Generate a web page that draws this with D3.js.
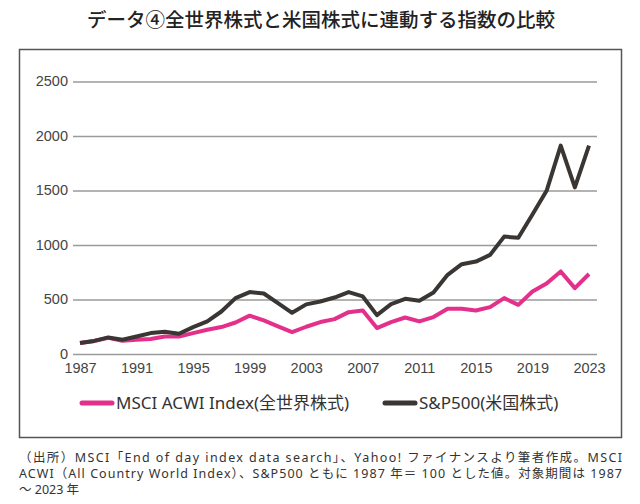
<!DOCTYPE html>
<html>
<head>
<meta charset="utf-8">
<script src="https://cdn.jsdelivr.net/npm/d3@7"></script>
<style>
  body { margin: 0; background: #ffffff; }
  svg { display: block; font-family: "Noto Sans", "Noto Sans CJK JP", sans-serif; }
</style>
</head>
<body>
<div id="chart"></div>
<script>
var years = [1987, 1988, 1989, 1990, 1991, 1992, 1993, 1994, 1995, 1996,
  1997, 1998, 1999, 2000, 2001, 2002, 2003, 2004, 2005, 2006,
  2007, 2008, 2009, 2010, 2011, 2012, 2013, 2014, 2015, 2016,
  2017, 2018, 2019, 2020, 2021, 2022, 2023];

var acwi = [100, 120, 148, 122, 131, 137, 161, 161, 192, 222,
  247, 289, 352, 308, 253, 200, 250, 293, 320, 384,
  399, 238, 293, 335, 299, 339, 415, 415, 399, 430,
  513, 451, 573, 647, 757, 604, 734];

var sp500 = [100, 120, 152, 131, 161, 192, 204, 186, 247, 299,
  390, 513, 568, 555, 467, 378, 455, 482, 518, 568,
  528, 357, 458, 506, 488, 564, 726, 824, 848, 909,
  1077, 1066, 1280, 1497, 1912, 1528, 1912];

var yTicks = [0, 500, 1000, 1500, 2000, 2500];
var xTicks = [1987, 1991, 1995, 1999, 2003, 2007, 2011, 2015, 2019, 2023];

var seriesNames = ['MSCI ACWI Index(全世界株式)', 'S&P500(米国株式)'];
var seriesColors = ['#e3318b', '#3a3634'];

var title = 'データ④全世界株式と米国株式に連動する指数の比較';
var notes = [
  '（出所）MSCI「End of day index data search」、Yahoo! ファイナンスより筆者作成。MSCI',
  'ACWI（All Country World Index）、S&P500 ともに 1987 年＝ 100 とした値。対象期間は 1987',
  '～ 2023 年'
];

var width = 640, height = 504;

var svg = d3.select('#chart').append('svg')
  .attr('width', width)
  .attr('height', height)
  .style('background', '#ffffff');

// title
svg.append('text')
  .attr('x', 321)
  .attr('y', 27)
  .attr('text-anchor', 'middle')
  .style('font-family', '"Noto Sans CJK JP", sans-serif')
  .style('font-size', '19.5px')
  .style('font-weight', 500)
  .style('fill', '#222')
  .text(title);

// frame round the plot and legend
svg.append('rect')
  .attr('x', 19.5)
  .attr('y', 49.5)
  .attr('width', 602)
  .attr('height', 388)
  .style('fill', 'none')
  .style('stroke', '#555')
  .style('stroke-width', 1.5);

var xScale = d3.scaleLinear()
  .domain([1987, 2023])
  .range([80, 589]);

var yScale = d3.scaleLinear()
  .domain([0, 2500])
  .range([354, 81.5]);

// horizontal guides
var yAxis = d3.axisLeft(yScale)
  .tickValues(yTicks)
  .tickSize(-524)
  .tickFormat(d3.format('d'));

var yGuide = svg.append('g')
  .attr('transform', 'translate(73,0)')
  .call(yAxis);
yGuide.select('.domain').remove();
yGuide.selectAll('line')
  .style('stroke', '#9a9a9a')
  .style('stroke-width', 1.3);
yGuide.selectAll('text')
  .style('font-size', '14.5px')
  .style('fill', '#444')
  .attr('x', -5)
  .attr('dy', '0.3em');

var xAxis = d3.axisBottom(xScale)
  .tickValues(xTicks)
  .tickSize(0)
  .tickPadding(9)
  .tickFormat(d3.format('d'));

var xGuide = svg.append('g')
  .attr('transform', 'translate(0,' + yScale(0) + ')')
  .call(xAxis);
xGuide.select('.domain').remove();
xGuide.selectAll('text')
  .style('font-size', '14.5px')
  .style('fill', '#444');

var line = d3.line()
  .x(function(d, i) { return xScale(years[i]); })
  .y(function(d) { return yScale(d); });

// pink first so the black line sits on top
[acwi, sp500].forEach(function(series, k) {
  svg.append('path')
    .datum(series)
    .attr('d', line)
    .style('fill', 'none')
    .style('stroke', seriesColors[k])
    .style('stroke-width', 4)
    .style('stroke-linejoin', 'round');
});

// legend
var legendX = [82, 385];
seriesNames.forEach(function(name, k) {
  svg.append('line')
    .attr('x1', legendX[k])
    .attr('x2', legendX[k] + 30)
    .attr('y1', 403)
    .attr('y2', 403)
    .style('stroke', seriesColors[k])
    .style('stroke-width', 5)
    .style('stroke-linecap', 'round');
  svg.append('text')
    .attr('x', legendX[k] + 34)
    .attr('y', 403)
    .attr('dy', '0.35em')
    .style('font-size', '17px')
    .style('fill', '#333')
    .text(name);
});

// source notes, first two lines justified
notes.forEach(function(t, i) {
  var txt = svg.append('text')
    .attr('x', 19)
    .attr('y', 458 + i * 16)
    .attr('dy', '0.35em')
    .style('font-size', '12.5px')
    .style('fill', '#333')
    .text(t);
  if (i < 2) {
    txt.attr('textLength', 603).attr('lengthAdjust', 'spacing');
  }
});
</script>
</body>
</html>
